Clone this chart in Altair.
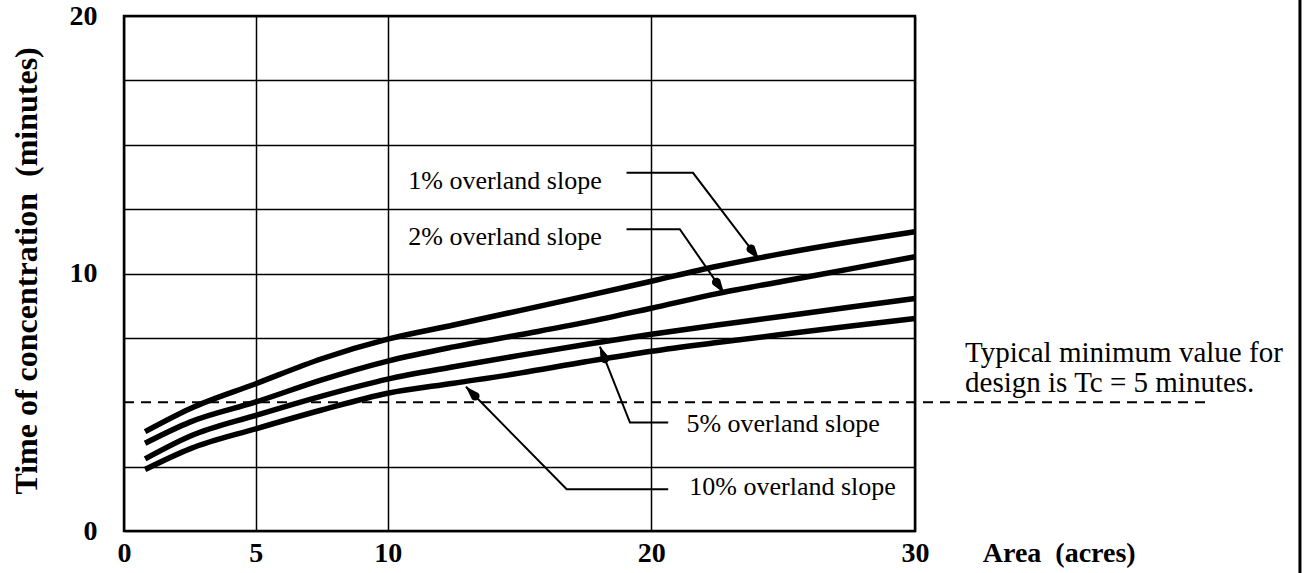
import math
import altair as alt
import pandas as pd

# ---- data ----
area = [0.8, 2.5, 5, 7.5, 10, 12.5, 15, 17.5, 20, 22.5, 25, 27.5, 30]
tc_1pct = [3.86, 4.75, 5.72, 6.69, 7.45, 8.0, 8.56, 9.12, 9.7, 10.28, 10.78, 11.22, 11.62]
tc_2pct = [3.41, 4.23, 5.01, 5.87, 6.6, 7.15, 7.62, 8.1, 8.65, 9.22, 9.7, 10.17, 10.65]
tc_5pct = [2.80, 3.68, 4.49, 5.24, 5.9, 6.38, 6.82, 7.24, 7.64, 8.0, 8.34, 8.69, 9.03]
tc_10pct = [2.39, 3.19, 3.97, 4.7, 5.35, 5.74, 6.13, 6.57, 6.98, 7.32, 7.64, 7.95, 8.25]
slopes = ["1%", "2%", "5%", "10%"]

x_tick_values = [0, 5, 10, 20, 30]
y_grid_values = [0, 2.5, 7.5, 10, 12.5, 15, 17.5, 20]
design_minimum = 5

slope_labels = ["1% overland slope", "2% overland slope", "5% overland slope", "10% overland slope"]
note_lines = ["Typical minimum value for", "design is Tc = 5 minutes."]
y_title = "Time of concentration \u00a0(minutes)"
x_title = "Area \u00a0(acres)"

# ---- annotation placement (data units) ----
label_x = [10.78, 10.78, 21.33, 21.44]
label_y = [13.27, 11.11, 3.86, 1.40]
leader_x = [[19.06, 21.58, 24.08], [19.06, 21.08, 22.75], [20.64, 19.19, 18.05], [20.64, 16.79, 12.97]]
leader_y = [[13.91, 13.91, 10.55], [11.72, 11.72, 9.25], [4.21, 4.21, 7.16], [1.62, 1.62, 5.60]]
note_x = 31.9
note_y = [6.57, 5.41]
dash_end_x = 41.2
border_x = 44.6
border_y = [-1.63, 20.62]
y_title_pos = (-3.68, 10.1)
x_title_pos = (32.57, -1.2)

W, H = 791, 515
XMAX, YMAX = 30, 20
FONT = "Liberation Serif"

xscale = alt.Scale(domain=[0, XMAX], nice=False, zero=False)
yscale = alt.Scale(domain=[0, YMAX], nice=False, zero=False)

x_axis = alt.Axis(values=x_tick_values, grid=True, gridColor="black", gridWidth=1.5, gridOpacity=1,
                  domain=False, ticks=False, labelFont=FONT, labelFontSize=28, labelFontWeight="bold",
                  labelColor="black", labelPadding=8, labelFlush=False, labelOverlap=False, title=None)
y_axis = alt.Axis(values=y_grid_values, grid=True, gridColor="black", gridWidth=1.5, gridOpacity=1,
                  domain=False, ticks=False, labelFont=FONT, labelFontSize=28, labelFontWeight="bold",
                  labelColor="black", labelPadding=27, labelFlush=False, labelOverlap=False, title=None,
                  labelExpr="datum.value % 10 == 0 ? datum.label : ''")


def X(field, **kw):
    return alt.X(field, type="quantitative", scale=xscale, axis=x_axis, **kw)


def Y(field, **kw):
    return alt.Y(field, type="quantitative", scale=yscale, axis=y_axis, **kw)


rows = []
for s, vals in zip(slopes, [tc_1pct, tc_2pct, tc_5pct, tc_10pct]):
    for a, v in zip(area, vals):
        rows.append({"x": a, "y": v, "slope": s})
curves_df = pd.DataFrame(rows)

curves = alt.Chart(curves_df).mark_line(color="black", strokeWidth=5.5, interpolate="monotone",
                                         strokeCap="butt").encode(
    x=X("x"), y=Y("y"), detail="slope:N")

lead_rows = []
for i, (lx, ly) in enumerate(zip(leader_x, leader_y)):
    for j, (px, py) in enumerate(zip(lx, ly)):
        lead_rows.append({"x": px, "y": py, "grp": i, "ord": j})
leaders = alt.Chart(pd.DataFrame(lead_rows)).mark_line(color="black", strokeWidth=2).encode(
    x=X("x"), y=Y("y"), detail="grp:N", order="ord:Q")

# arrowheads: short tapered trails ending at each leader's tip
head_len, head_w = 13.0, 9.0
kx, ky = W / XMAX, H / YMAX
head_rows = []
for i, (lx, ly) in enumerate(zip(leader_x, leader_y)):
    dxp = (lx[-1] - lx[-2]) * kx
    dyp = (ly[-1] - ly[-2]) * ky
    n = math.hypot(dxp, dyp)
    bx = lx[-1] - head_len * dxp / n / kx
    by = ly[-1] - head_len * dyp / n / ky
    head_rows.append({"x": bx, "y": by, "w": head_w, "grp": i, "ord": 0})
    head_rows.append({"x": lx[-1], "y": ly[-1], "w": 0.3, "grp": i, "ord": 1})
heads = alt.Chart(pd.DataFrame(head_rows)).mark_trail(color="black").encode(
    x=X("x"), y=Y("y"), size=alt.Size("w:Q", scale=None, legend=None),
    detail="grp:N", order="ord:Q")

label_df = pd.DataFrame({"x": label_x, "y": label_y, "t": slope_labels})
labels = alt.Chart(label_df).mark_text(font=FONT, fontSize=26, align="left", baseline="alphabetic",
                                       color="black").encode(x=X("x"), y=Y("y"), text="t:N")

note_df = pd.DataFrame({"x": [note_x, note_x], "y": note_y, "t": note_lines})
note = alt.Chart(note_df).mark_text(font=FONT, fontSize=29, align="left", baseline="alphabetic",
                                    color="black").encode(x=X("x"), y=Y("y"), text="t:N")

dash_df = pd.DataFrame({"x": [0], "x2": [dash_end_x], "y": [design_minimum]})
dashed = alt.Chart(dash_df).mark_rule(color="black", strokeWidth=2, strokeDash=[10, 7]).encode(
    x=X("x"), x2="x2:Q", y=Y("y"))

border_df = pd.DataFrame({"x": [border_x], "y": [border_y[0]], "y2": [border_y[1]]})
border = alt.Chart(border_df).mark_rule(color="black", strokeWidth=3).encode(
    x=X("x"), y=Y("y"), y2="y2:Q")

ytitle_df = pd.DataFrame({"x": [y_title_pos[0]], "y": [y_title_pos[1]], "t": [y_title]})
ytitle = alt.Chart(ytitle_df).mark_text(font=FONT, fontSize=32, fontWeight="bold", angle=270,
                                        align="center", baseline="middle", color="black").encode(
    x=X("x"), y=Y("y"), text="t:N")

xtitle_df = pd.DataFrame({"x": [x_title_pos[0]], "y": [x_title_pos[1]], "t": [x_title]})
xtitle = alt.Chart(xtitle_df).mark_text(font=FONT, fontSize=28, fontWeight="bold", align="left",
                                        baseline="alphabetic", color="black").encode(
    x=X("x"), y=Y("y"), text="t:N")

chart = alt.layer(dashed, curves, leaders, heads, labels, note, border, ytitle, xtitle).properties(
    width=W, height=H,
    autosize=alt.AutoSizeParams(type="none"),
    padding={"left": 124, "top": 16, "right": 389, "bottom": 42},
    background="white",
).configure_view(stroke="black", strokeWidth=2.5)

chart.save("out.html", embed_options={"renderer": "svg", "actions": False})
